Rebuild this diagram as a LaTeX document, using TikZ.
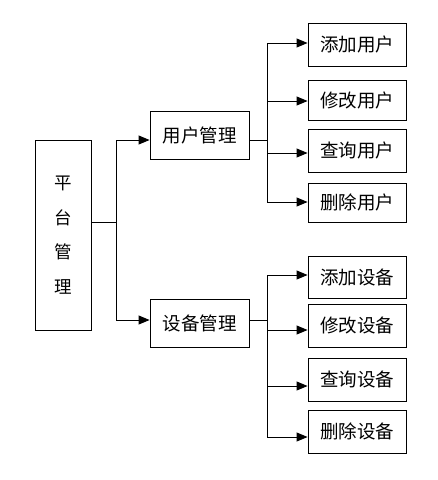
\documentclass[tikz,border=0pt]{standalone}
\usepackage{fontspec}
\setmainfont{Noto Sans CJK SC}
\usetikzlibrary{arrows.meta}
\begin{document}
\begin{tikzpicture}[x=1pt,y=-1pt,
  box/.style={draw,line width=0.9pt,inner sep=0pt,font=\fontsize{18.5}{20}\selectfont},
  leaf/.style={box,minimum width=98pt},
  conn/.style={line width=0.9pt},
  arr/.style={conn,-{Triangle[length=11pt,width=9pt]}}]
\useasboundingbox (0,0) rectangle (438,480);
% root
\node[box,minimum width=56pt,minimum height=190pt,align=center,font=\fontsize{17.5}{34.5}\selectfont] (root) at (63,235) {平\\台\\管\\理};
\node[box,minimum width=99pt,minimum height=48pt] (user) at (199.5,135) {用户管理};
\node[box,minimum width=99pt,minimum height=48pt] (dev) at (199.5,323) {设备管理};
% leaves
\node[leaf,minimum height=43pt] (u1) at (357,44.5) {添加用户};
\node[leaf,minimum height=40pt] (u2) at (357,100) {修改用户};
\node[leaf,minimum height=43pt] (u3) at (357,150.5) {查询用户};
\node[leaf,minimum height=39pt] (u4) at (357,202.5) {删除用户};
\node[leaf,minimum height=42pt] (d1) at (357,277) {添加设备};
\node[leaf,minimum height=43pt] (d2) at (357,325.5) {修改设备};
\node[leaf,minimum height=43pt] (d3) at (357,379.5) {查询设备};
\node[leaf,minimum height=43pt] (d4) at (357,431.5) {删除设备};
% coordinates
\coordinate (rj) at (116,222);
\coordinate (uj) at (267,140);
\coordinate (dj) at (267,320);
% root connectors
\draw[conn] (root.east |- rj) -- (rj);
\draw[arr] (rj) |- (user.west |- 0,140);
\draw[arr] (rj) |- (dev.west |- 0,320);
% user connectors
\draw[conn] (user.east |- uj) -- (uj);
\draw[arr] (uj) |- (u1.west |- 0,43);
\draw[arr] (uj) |- (u2.west |- 0,101);
\draw[arr] (uj) |- (u3.west |- 0,153);
\draw[arr] (uj) |- (u4.west |- 0,202);
% device connectors
\draw[conn] (dev.east |- dj) -- (dj);
\draw[arr] (dj) |- (d1.west |- 0,275);
\draw[arr] (dj) |- (d2.west |- 0,330);
\draw[arr] (dj) |- (d3.west |- 0,386);
\draw[arr] (dj) |- (d4.west |- 0,437);
\end{tikzpicture}
\end{document}
